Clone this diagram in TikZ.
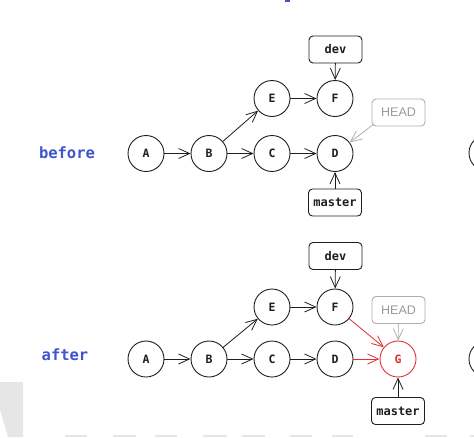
\documentclass[tikz,border=0pt]{standalone}
\usepackage{fontspec}
\setmonofont{DejaVu Sans Mono}
\newfontfamily\headfont{Liberation Sans}
\usetikzlibrary{arrows.meta}
\definecolor{lblblue}{HTML}{3F55D0}
\definecolor{newred}{HTML}{E03131}
\definecolor{headgray}{HTML}{9A9A9A}
\definecolor{bargray}{HTML}{E6E6E6}
\definecolor{ink}{HTML}{1E1E1E}
\tikzset{
  commit/.style={circle,draw=ink,text=ink,line width=0.9pt,minimum size=36pt,inner sep=0pt,outer sep=0pt,font=\ttfamily\bfseries\fontsize{11.5}{11.5}\selectfont},
  newcommit/.style={commit,draw=newred,text=newred},
  refbox/.style={draw=ink,text=ink,rounded corners=4pt,line width=0.9pt,minimum width=53pt,minimum height=27pt,inner sep=0pt,outer sep=0pt,font=\ttfamily\bfseries\fontsize{12}{12}\selectfont},
  headbox/.style={refbox,draw=headgray!80,text=headgray,font=\headfont\fontsize{12.5}{12.5}\selectfont},
  rowlabel/.style={text=lblblue,font=\ttfamily\bfseries\fontsize{15.5}{15.5}\selectfont},
  link/.style={-{Straight Barb[length=11pt,width=10pt,line width=0.8pt]},draw=ink,line width=0.8pt,shorten >=0.5pt},
  newlink/.style={link,draw=newred},
  headlink/.style={link,draw=headgray!80},
}
\begin{document}
\begin{tikzpicture}[x=1pt,y=-1pt]
\useasboundingbox (0,0) rectangle (474,437);
% fragments of the surrounding page
\fill[lblblue] (285,0) rectangle (290,1.5);
\fill[bargray] (0,382) -- (23,382) -- (23,437) -- (8,437) -- (0,410) -- cycle;
\foreach \a/\b in {65/87,113/136,155/177,203/227,242/265,290/312,332/353,425/447,470/474}
  \fill[bargray] (\a,435) rectangle (\b,437);
\begin{scope}
\clip (0,0) rectangle (474,437);
\draw[ink,line width=0.9pt] (487,153) circle (18);
\draw[ink,line width=0.9pt] (487,359) circle (18);
\end{scope}

% before
\node[rowlabel] (lb) at (67,153) {before};
\node[commit] (a1) at (146,153.5) {A};
\node[commit] (b1) at (209,153.5) {B};
\node[commit] (c1) at (272,153.5) {C};
\node[commit] (d1) at (335,153.5) {D};
\node[commit] (e1) at (272,98.5) {E};
\node[commit] (f1) at (335,98.5) {F};
\node[refbox] (dev1) at (335.5,49.5) {dev};
\node[refbox] (mas1) at (335,202.5) {master};
\node[headbox] (head1) at (398.5,112.5) {HEAD};
\coordinate (h1s) at ([shift={(2,-2)}]head1.south west);
\draw[link] (a1) -- (b1);
\draw[link] (b1) -- (c1);
\draw[link] (b1) -- (e1);
\draw[link] (c1) -- (d1);
\draw[link] (e1) -- (f1);
\draw[link] (dev1) -- (f1);
\draw[link] (mas1) -- (d1);
\draw[headlink] (h1s) -- (d1);

% after
\node[rowlabel] (la) at (65,355) {after};
\node[commit] (a2) at (146,359) {A};
\node[commit] (b2) at (209,359) {B};
\node[commit] (c2) at (272,359) {C};
\node[commit] (d2) at (335,359) {D};
\node[commit] (e2) at (272,307) {E};
\node[commit] (f2) at (335,307) {F};
\node[newcommit] (g2) at (398,359) {G};
\node[refbox] (dev2) at (335.5,256) {dev};
\node[refbox] (mas2) at (398,411) {master};
\node[headbox] (head2) at (398.5,310) {HEAD};
\draw[link] (a2) -- (b2);
\draw[link] (b2) -- (c2);
\draw[link] (b2) -- (e2);
\draw[link] (c2) -- (d2);
\draw[link] (e2) -- (f2);
\draw[link] (dev2) -- (f2);
\draw[newlink] (f2) -- (g2);
\draw[newlink] (d2) -- (g2);
\draw[headlink] (head2) -- (g2);
\draw[link] (mas2) -- (g2);
\end{tikzpicture}
\end{document}
